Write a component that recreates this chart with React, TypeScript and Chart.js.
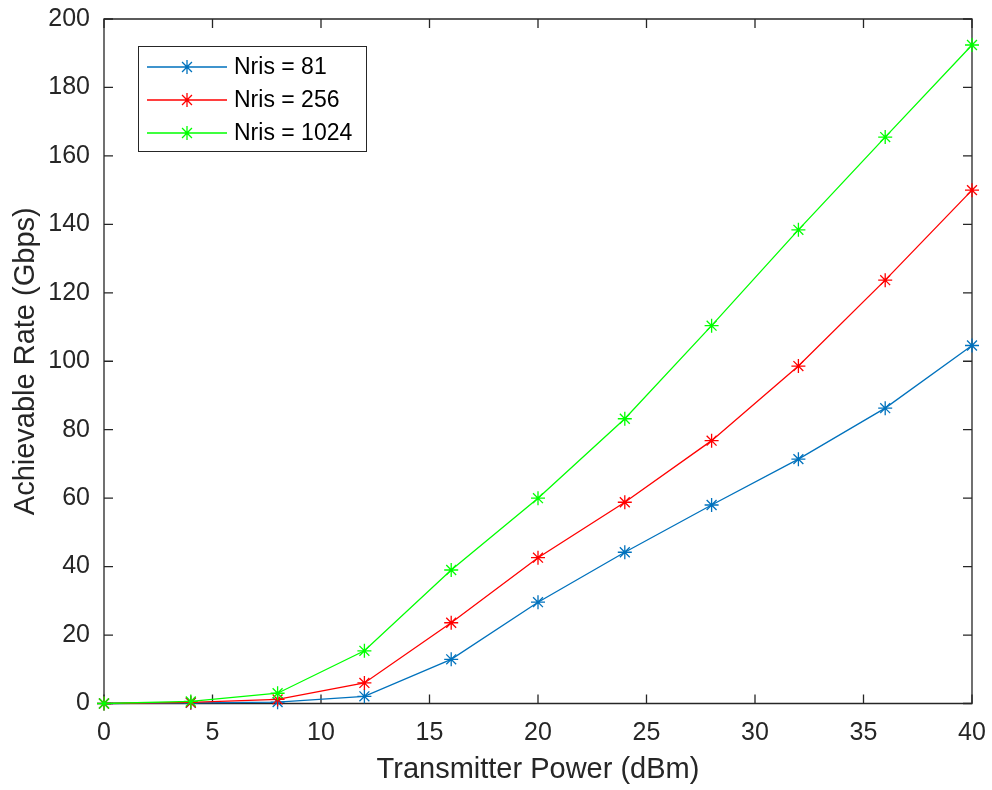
import React, { useEffect, useRef } from "react";
import { Chart, registerables } from "chart.js";

Chart.register(...registerables);

// Transmitter power sweep (dBm)
const powerDbm = [0, 4, 8, 12, 16, 20, 24, 28, 32, 36, 40];

// Achievable rate (Gbps) for each RIS size
const rateN81 = [0, 0.2, 0.4, 2.1, 12.9, 29.6, 44.2, 58.0, 71.4, 86.3, 104.6];
const rateN256 = [0, 0.3, 1.2, 6.0, 23.6, 42.6, 58.8, 76.8, 98.6, 123.7, 150.0];
const rateN1024 = [0, 0.6, 3.0, 15.4, 39.0, 60.0, 83.2, 110.4, 138.4, 165.5, 192.4];

const seriesLabels = ["Nris = 81", "Nris = 256", "Nris = 1024"];
const seriesColors = ["#0072BD", "#FF0000", "#00FF00"];

const xTicks = [0, 5, 10, 15, 20, 25, 30, 35, 40];
const yTicks = [0, 20, 40, 60, 80, 100, 120, 140, 160, 180, 200];

const xTitle = "Transmitter Power (dBm)";
const yTitle = "Achievable Rate (Gbps)";

const FONT = "'Liberation Sans', Arial, Helvetica, sans-serif";
const AXIS_COLOR = "#262626";

// Boxed axes with inward ticks and axis titles (under the data),
// then the inset legend on top.
const matlabFrame = {
  id: "matlabFrame",
  beforeDatasetsDraw(chart: any) {
    const ctx = chart.ctx as CanvasRenderingContext2D;
    const { left, right, top, bottom } = chart.chartArea;
    const xs = chart.scales.x;
    const ys = chart.scales.y;
    const tick = 9;

    ctx.save();
    ctx.strokeStyle = AXIS_COLOR;
    ctx.lineWidth = 1.3;
    ctx.beginPath();
    ctx.rect(left, top, right - left, bottom - top);
    ctx.stroke();

    ctx.beginPath();
    xTicks.forEach((v) => {
      const px = xs.getPixelForValue(v);
      ctx.moveTo(px, bottom);
      ctx.lineTo(px, bottom - tick);
      ctx.moveTo(px, top);
      ctx.lineTo(px, top + tick);
    });
    yTicks.forEach((v) => {
      const py = ys.getPixelForValue(v);
      ctx.moveTo(left, py);
      ctx.lineTo(left + tick, py);
      ctx.moveTo(right, py);
      ctx.lineTo(right - tick, py);
    });
    ctx.stroke();

    ctx.fillStyle = AXIS_COLOR;
    ctx.font = `29px ${FONT}`;
    ctx.textAlign = "center";
    ctx.textBaseline = "middle";
    ctx.fillText(xTitle, (left + right) / 2, 770);
    ctx.save();
    ctx.translate(26, (top + bottom) / 2);
    ctx.rotate(-Math.PI / 2);
    ctx.fillText(yTitle, 0, 0);
    ctx.restore();
    ctx.restore();
  },
  afterDraw(chart: any) {
    const ctx = chart.ctx as CanvasRenderingContext2D;
    ctx.save();
    const lx = 138.5, ly = 46.5, lw = 228, lh = 105;
    ctx.fillStyle = "#ffffff";
    ctx.fillRect(lx, ly, lw, lh);
    ctx.strokeStyle = AXIS_COLOR;
    ctx.lineWidth = 1;
    ctx.strokeRect(lx, ly, lw, lh);
    const rows = [67, 100, 133];
    chart.data.datasets.forEach((ds: any, i: number) => {
      const y = rows[i];
      ctx.strokeStyle = ds.borderColor;
      ctx.lineWidth = 1.3;
      ctx.beginPath();
      ctx.moveTo(147, y);
      ctx.lineTo(227, y);
      // asterisk marker
      const r = 7;
      const cx = 187;
      ctx.moveTo(cx - r, y);
      ctx.lineTo(cx + r, y);
      ctx.moveTo(cx, y - r);
      ctx.lineTo(cx, y + r);
      const d = r * Math.SQRT1_2;
      ctx.moveTo(cx - d, y - d);
      ctx.lineTo(cx + d, y + d);
      ctx.moveTo(cx - d, y + d);
      ctx.lineTo(cx + d, y - d);
      ctx.stroke();
      ctx.fillStyle = "#000000";
      ctx.font = `23px ${FONT}`;
      ctx.textAlign = "left";
      ctx.textBaseline = "middle";
      ctx.fillText(ds.label, 234, y + 1);
    });
    ctx.restore();
  },
};

export default function App() {
  const canvasRef = useRef<HTMLCanvasElement | null>(null);

  useEffect(() => {
    const canvas = canvasRef.current;
    if (!canvas) return;
    const series = [rateN81, rateN256, rateN1024];
    const chart = new Chart(canvas, {
      type: "line",
      data: {
        datasets: series.map((vals, i) => ({
          label: seriesLabels[i],
          data: powerDbm.map((x, j) => ({ x, y: vals[j] })),
          borderColor: seriesColors[i],
          backgroundColor: seriesColors[i],
          borderWidth: 1.3,
          pointStyle: "star",
          pointRadius: 7,
          pointBorderWidth: 1.3,
          pointBorderColor: seriesColors[i],
          tension: 0,
          fill: false,
          clip: false,
          // later series are painted over earlier ones
          order: series.length - 1 - i,
        })),
      },
      options: {
        responsive: false,
        animation: false,
        devicePixelRatio: 1,
        layout: { padding: { top: 19, right: 20, left: 0, bottom: 0 } },
        plugins: {
          legend: { display: false },
          tooltip: { enabled: false },
        },
        scales: {
          x: {
            type: "linear",
            min: 0,
            max: 40,
            afterBuildTicks: (scale: any) => {
              scale.ticks = xTicks.map((v) => ({ value: v }));
            },
            afterFit: (scale: any) => {
              scale.height = 86.5;
              scale.paddingLeft = 0;
              scale.paddingRight = 0;
            },
            grid: { display: false, drawTicks: false },
            border: { display: false },
            ticks: {
              color: AXIS_COLOR,
              font: { family: FONT, size: 25 },
              padding: 15,
              maxRotation: 0,
              autoSkip: false,
            },
          },
          y: {
            type: "linear",
            min: 0,
            max: 200,
            afterBuildTicks: (scale: any) => {
              scale.ticks = yTicks.map((v) => ({ value: v }));
            },
            afterFit: (scale: any) => {
              scale.width = 104;
              scale.paddingTop = 0;
              scale.paddingBottom = 0;
            },
            grid: { display: false, drawTicks: false },
            border: { display: false },
            ticks: {
              color: AXIS_COLOR,
              font: { family: FONT, size: 25 },
              padding: 14,
              autoSkip: false,
            },
          },
        },
      },
      plugins: [matlabFrame],
    });
    return () => chart.destroy();
  }, []);

  return (
    <div style={{ position: "absolute", left: 0, top: 0, width: 992, height: 790, background: "#fff" }}>
      <canvas ref={canvasRef} width={992} height={790} style={{ display: "block" }} />
    </div>
  );
}
